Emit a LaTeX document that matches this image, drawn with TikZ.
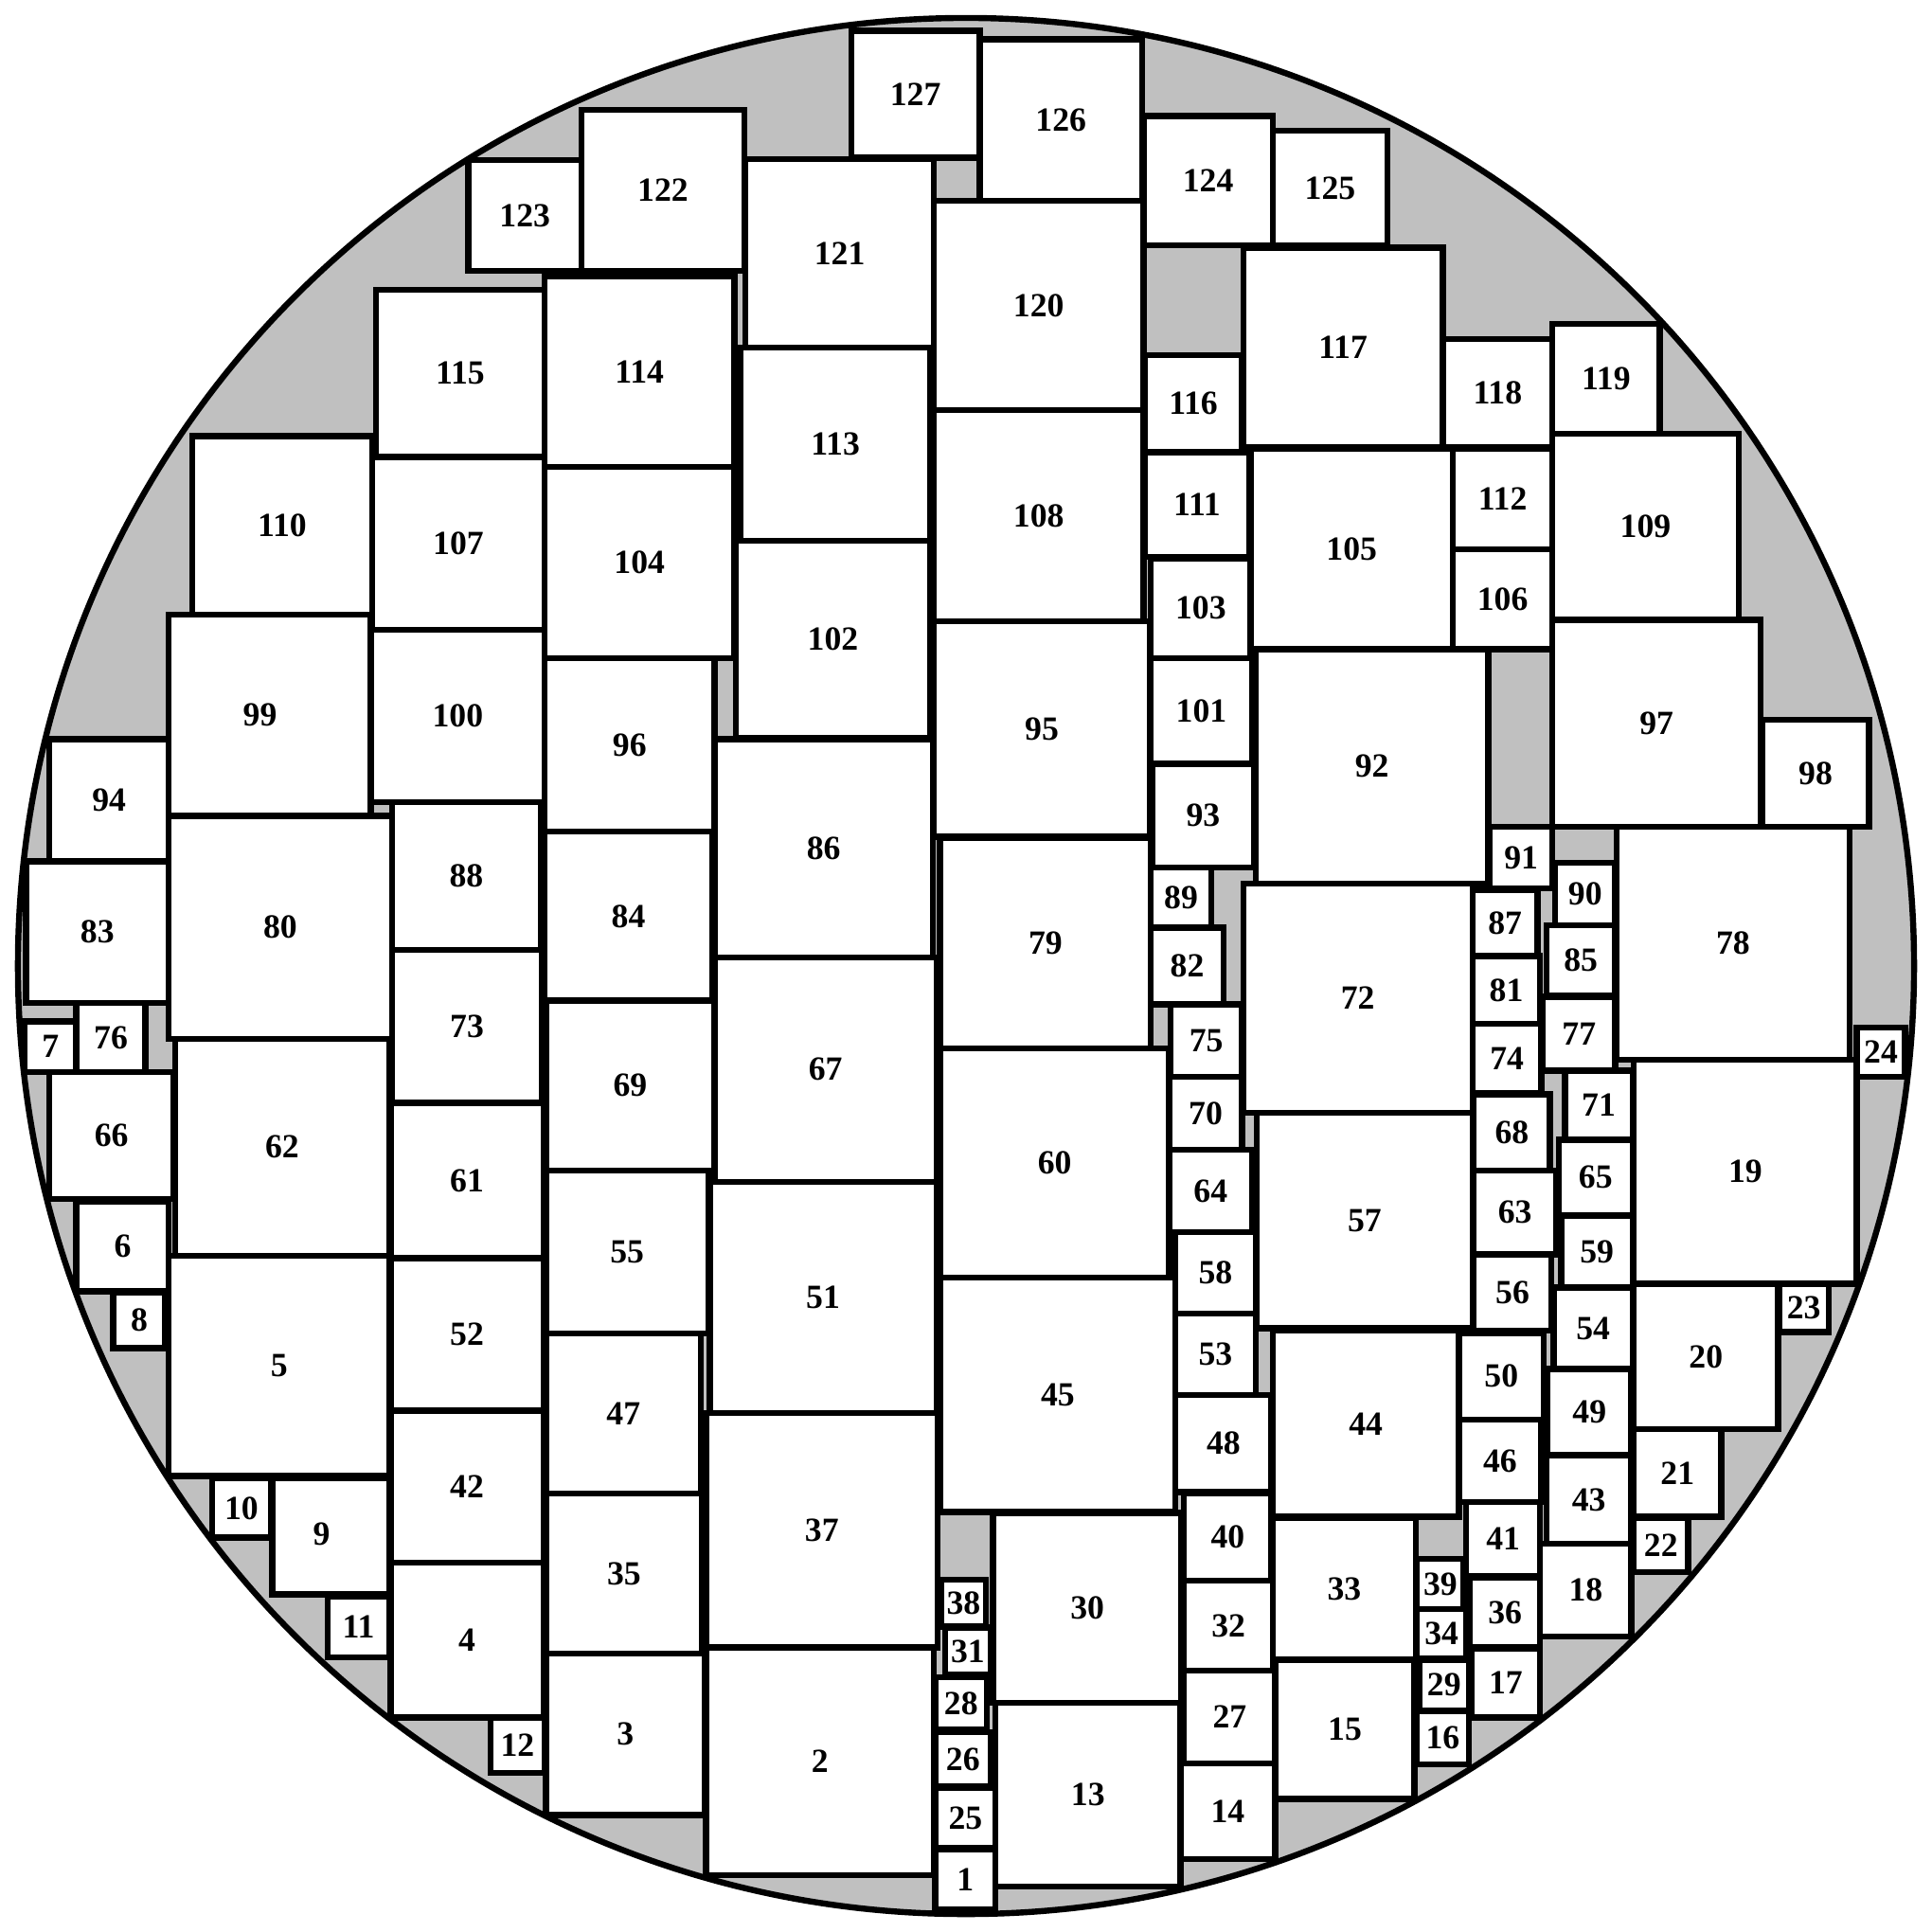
\documentclass[tikz,border=0pt]{standalone}
\usepackage{fontspec}
\setmainfont{Liberation Serif}
\definecolor{bggray}{RGB}{192,192,192}
\tikzset{
  cellst/.style={draw=black,fill=white,line width=1.4pt,line join=miter},
  lab/.style={font=\fontsize{7.8}{9}\selectfont\bfseries,inner sep=0pt}
}
\newcommand\cellbox[5]{%
  \draw[cellst] (#2,#3) rectangle (#4,#5);
  \node[lab] (n#1) at ({(#2+#4)/2},{(#3+#5)/2}) {#1};}
\newcommand\cellboxat[7]{%
  \draw[cellst] (#2,#3) rectangle (#4,#5);
  \node[lab] (n#1) at (#6,#7) {#1};}
\begin{document}
\begin{tikzpicture}[x=0.01cm,y=-0.01cm]
\useasboundingbox (0,0) rectangle (1568,1568);
\fill[bggray] (784,784) circle[radius=7.69cm];
\cellbox{127}{691}{25}{795}{128}
\cellbox{126}{795}{32}{927}{163}
\cellbox{124}{928}{94}{1033}{199}
\cellbox{125}{1033}{106}{1126}{199}
\cellbox{122}{472}{89}{604}{220}
\cellbox{123}{380}{130}{472}{220}
\cellbox{121}{605}{129}{758}{282}
\cellbox{120}{758}{163}{928}{333}
\cellbox{116}{929}{288}{1008}{367}
\cellbox{117}{1009}{201}{1171}{363}
\cellbox{118}{1171}{275}{1260}{363}
\cellbox{119}{1260}{263}{1347}{352}
\cellbox{109}{1260}{352}{1411}{503}
\cellbox{112}{1179}{364}{1260}{446}
\cellbox{106}{1179}{446}{1260}{527}
\cellbox{105}{1015}{364}{1179}{527}
\cellbox{97}{1260}{503}{1429}{671}
\cellbox{98}{1430}{584}{1517}{671}
\cellbox{92}{1019}{527}{1208}{717}
\cellbox{101}{934}{534}{1016}{620}
\cellbox{103}{934}{453}{1015}{534}
\cellbox{111}{929}{367}{1014}{452}
\cellbox{108}{758}{333}{928}{504}
\cellbox{113}{601}{282}{755}{439}
\cellbox{114}{442}{224}{596}{379}
\cellbox{115}{305}{235}{442}{371}
\cellbox{110}{156}{354}{302}{499}
\cellbox{107}{302}{371}{442}{511}
\cellbox{104}{442}{379}{596}{534}
\cellbox{102}{597}{439}{755}{599}
\cellbox{95}{758}{504}{933}{679}
\cellbox{93}{935}{620}{1018}{704}
\cellbox{89}{934}{704}{983}{753}
\cellbox{82}{934}{753}{993}{815}
\cellbox{79}{763}{680}{934}{851}
\cellbox{86}{580}{600}{757}{777}
\cellbox{96}{442}{534}{580}{675}
\cellbox{100}{301}{511}{442}{651}
\cellboxat{99}{137}{499}{301}{662}{211}{580}
\cellbox{94}{40}{600}{137}{699}
\cellbox{83}{21}{699}{137}{814}
\cellbox{80}{137}{662}{318}{843}
\cellbox{88}{318}{651}{439}{771}
\cellbox{84}{442}{675}{578}{812}
\cellbox{73}{318}{771}{440}{895}
\cellbox{7}{20}{829}{62}{870}
\cellbox{76}{62}{814}{118}{870}
\cellbox{66}{40}{870}{141}{973}
\cellbox{62}{142}{843}{316}{1019}
\cellbox{61}{317}{895}{441}{1021}
\cellbox{69}{443}{812}{580}{950}
\cellbox{67}{580}{777}{760}{959}
\cellbox{60}{763}{851}{949}{1037}
\cellbox{75}{950}{815}{1008}{874}
\cellbox{70}{949}{874}{1008}{933}
\cellbox{64}{949}{933}{1016}{1000}
\cellbox{58}{954}{1000}{1019}{1066}
\cellbox{72}{1009}{717}{1195}{903}
\cellbox{57}{1020}{903}{1195}{1078}
\cellbox{91}{1209}{671}{1260}{721}
\cellbox{87}{1195}{722}{1248}{776}
\cellbox{90}{1262}{700}{1311}{751}
\cellbox{85}{1255}{751}{1311}{808}
\cellbox{81}{1195}{776}{1250}{831}
\cellbox{77}{1252}{809}{1311}{869}
\cellbox{74}{1195}{831}{1251}{887}
\cellbox{78}{1312}{671}{1501}{860}
\cellbox{24}{1507}{834}{1546}{874}
\cellbox{71}{1270}{869}{1325}{925}
\cellbox{68}{1196}{888}{1258}{950}
\cellbox{19}{1326}{860}{1507}{1042}
\cellbox{65}{1265}{925}{1325}{986}
\cellbox{63}{1196}{950}{1263}{1018}
\cellbox{59}{1267}{987}{1325}{1045}
\cellbox{56}{1196}{1018}{1259}{1080}
\cellbox{54}{1261}{1045}{1325}{1111}
\cellbox{20}{1326}{1042}{1443}{1160}
\cellbox{23}{1444}{1042}{1484}{1081}
\cellbox{44}{1033}{1080}{1184}{1231}
\cellbox{50}{1184}{1082}{1253}{1152}
\cellbox{49}{1256}{1111}{1324}{1181}
\cellbox{46}{1184}{1152}{1251}{1219}
\cellbox{21}{1326}{1160}{1397}{1231}
\cellbox{43}{1255}{1181}{1324}{1253}
\cellbox{41}{1190}{1219}{1250}{1279}
\cellbox{22}{1326}{1232}{1370}{1276}
\cellbox{33}{1033}{1232}{1149}{1347}
\cellbox{39}{1150}{1265}{1188}{1306}
\cellbox{36}{1193}{1280}{1250}{1337}
\cellbox{18}{1250}{1253}{1324}{1328}
\cellbox{34}{1150}{1306}{1190}{1346}
\cellbox{29}{1152}{1347}{1192}{1388}
\cellbox{17}{1194}{1338}{1250}{1394}
\cellbox{15}{1035}{1347}{1148}{1460}
\cellbox{16}{1150}{1389}{1192}{1432}
\cellbox{45}{763}{1037}{954}{1227}
\cellbox{53}{954}{1066}{1019}{1132}
\cellbox{48}{954}{1132}{1032}{1211}
\cellbox{40}{961}{1212}{1032}{1283}
\cellbox{32}{961}{1283}{1033}{1356}
\cellbox{27}{961}{1356}{1035}{1431}
\cellbox{14}{958}{1431}{1035}{1509}
\cellbox{30}{806}{1228}{959}{1382}
\cellbox{13}{808}{1382}{958}{1531}
\cellbox{38}{764}{1282}{800}{1320}
\cellbox{31}{767}{1321}{804}{1359}
\cellbox{28}{759}{1361}{801}{1404}
\cellbox{26}{759}{1406}{804}{1450}
\cellbox{25}{759}{1451}{808}{1500}
\cellbox{1}{759}{1501}{808}{1550}
\cellbox{2}{573}{1337}{758}{1522}
\cellbox{37}{573}{1147}{761}{1337}
\cellbox{51}{576}{959}{760}{1147}
\cellbox{8}{92}{1049}{134}{1094}
\cellbox{6}{62}{975}{137}{1048}
\cellbox{5}{137}{1019}{316}{1198}
\cellbox{52}{317}{1021}{441}{1145}
\cellbox{42}{317}{1145}{441}{1268}
\cellbox{4}{317}{1268}{441}{1394}
\cellbox{10}{172}{1200}{220}{1248}
\cellboxat{9}{221}{1200}{316}{1294}{261}{1245}
\cellbox{11}{266}{1296}{316}{1345}
\cellbox{12}{398}{1394}{442}{1439}
\cellbox{47}{443}{1082}{569}{1212}
\cellbox{35}{443}{1212}{570}{1342}
\cellbox{3}{443}{1342}{572}{1473}
\cellbox{55}{443}{950}{575}{1082}
\draw[line width=1.4pt] (784,784) circle[radius=7.69cm];
\end{tikzpicture}
\end{document}
